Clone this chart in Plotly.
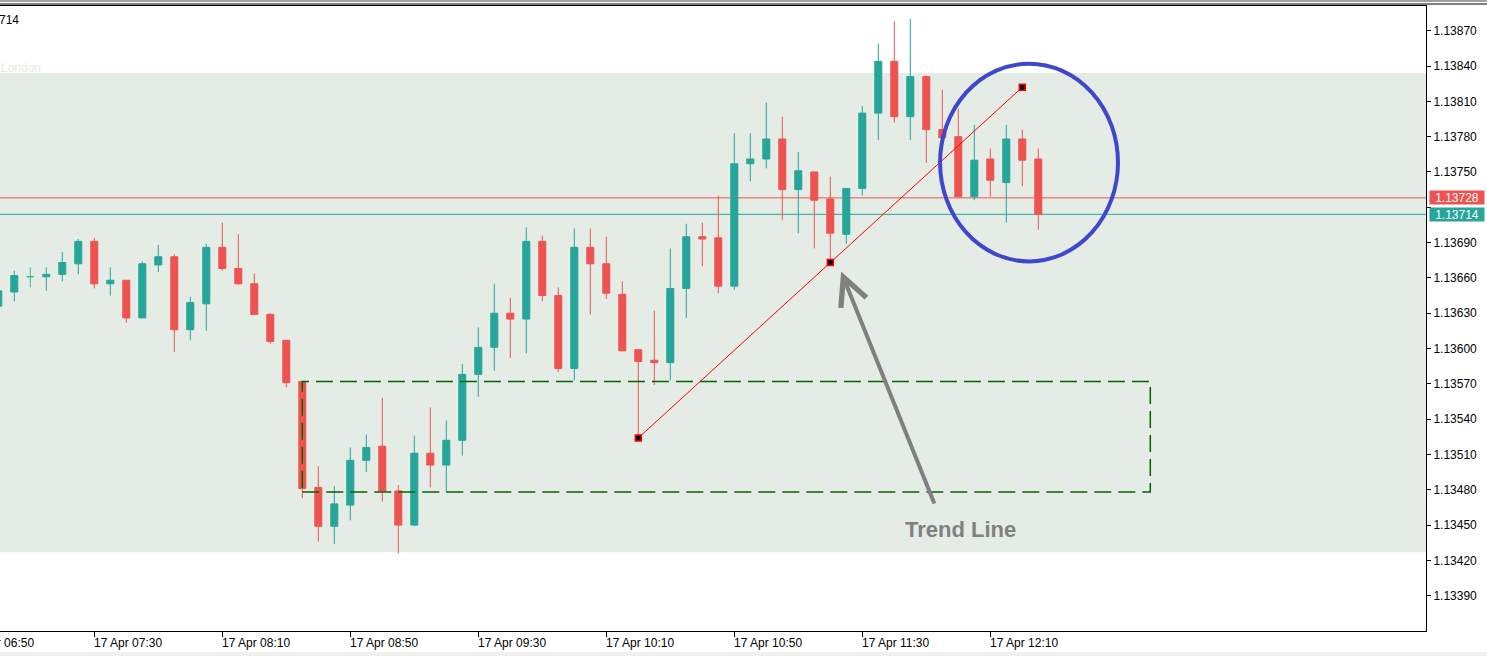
import pandas as pd
import plotly.graph_objects as go

# ---------------- data ----------------
times = pd.date_range("2019-04-17 07:00", periods=66, freq="5min")

opens = [1.13636, 1.13648, 1.13661, 1.13661, 1.13663, 1.13672, 1.13691, 1.13655, 1.13658, 1.13626,
         1.13671, 1.13678, 1.13616, 1.13638, 1.13686, 1.13668, 1.13655, 1.13629, 1.13607, 1.13572,
         1.13482, 1.13449, 1.13467, 1.13505, 1.13517, 1.13479, 1.13450, 1.13511, 1.13501, 1.13522,
         1.13578, 1.13601, 1.13630, 1.13625, 1.13691, 1.13645, 1.13583, 1.13686, 1.13672, 1.13646,
         1.13599, 1.13590, 1.13588, 1.13651, 1.13695, 1.13694, 1.13653, 1.13757, 1.13761, 1.13778,
         1.13735, 1.13750, 1.13727, 1.13697, 1.13736, 1.13800, 1.13844, 1.13797, 1.13831, 1.13786,
         1.13780, 1.13729, 1.13761, 1.13741, 1.13778, 1.13761]
highs = [1.13652, 1.13666, 1.13669, 1.13669, 1.13682, 1.13693, 1.13694, 1.13669, 1.13658, 1.13674,
         1.13688, 1.13680, 1.13644, 1.13689, 1.13707, 1.13697, 1.13664, 1.13630, 1.13607, 1.13572,
         1.13500, 1.13483, 1.13516, 1.13527, 1.13558, 1.13484, 1.13526, 1.13550, 1.13539, 1.13587,
         1.13618, 1.13655, 1.13643, 1.13703, 1.13696, 1.13652, 1.13702, 1.13702, 1.13695, 1.13657,
         1.13599, 1.13632, 1.13685, 1.13706, 1.13707, 1.13730, 1.13783, 1.13783, 1.13809, 1.13797,
         1.13767, 1.13750, 1.13746, 1.13736, 1.13806, 1.13859, 1.13878, 1.13880, 1.13832, 1.13820,
         1.13804, 1.13790, 1.13770, 1.13790, 1.13786, 1.13770]
lows = [1.13633, 1.13640, 1.13652, 1.13649, 1.13657, 1.13663, 1.13651, 1.13645, 1.13622, 1.13626,
        1.13665, 1.13597, 1.13607, 1.13615, 1.13666, 1.13654, 1.13629, 1.13604, 1.13567, 1.13473,
        1.13436, 1.13434, 1.13454, 1.13495, 1.13470, 1.13426, 1.13449, 1.13482, 1.13478, 1.13509,
        1.13559, 1.13581, 1.13592, 1.13596, 1.13640, 1.13580, 1.13573, 1.13629, 1.13642, 1.13600,
        1.13524, 1.13569, 1.13573, 1.13626, 1.13670, 1.13647, 1.13650, 1.13742, 1.13753, 1.13709,
        1.13698, 1.13685, 1.13674, 1.13689, 1.13730, 1.13777, 1.13792, 1.13777, 1.13758, 1.13779,
        1.13729, 1.13726, 1.13729, 1.13707, 1.13738, 1.13701]
closes = [1.13649, 1.13662, 1.13661, 1.13663, 1.13673, 1.13691, 1.13655, 1.13658, 1.13626, 1.13672,
          1.13678, 1.13616, 1.13639, 1.13686, 1.13668, 1.13655, 1.13629, 1.13606, 1.13571, 1.13481,
          1.13449, 1.13468, 1.13505, 1.13516, 1.13479, 1.13450, 1.13511, 1.13501, 1.13522, 1.13578,
          1.13601, 1.13630, 1.13625, 1.13691, 1.13645, 1.13583, 1.13686, 1.13672, 1.13647, 1.13598,
          1.13589, 1.13588, 1.13651, 1.13695, 1.13693, 1.13653, 1.13757, 1.13761, 1.13778, 1.13735,
          1.13751, 1.13726, 1.13698, 1.13736, 1.13800, 1.13844, 1.13797, 1.13831, 1.13786, 1.13779,
          1.13729, 1.13760, 1.13743, 1.13778, 1.13760, 1.13714]

y_tick_values = [1.13390, 1.13420, 1.13450, 1.13480, 1.13510, 1.13540, 1.13570, 1.13600, 1.13630,
                 1.13660, 1.13690, 1.13720, 1.13750, 1.13780, 1.13810, 1.13840, 1.13870]
x_tick_times = ["2019-04-17 06:50", "2019-04-17 07:30", "2019-04-17 08:10", "2019-04-17 08:50",
                "2019-04-17 09:30", "2019-04-17 10:10", "2019-04-17 10:50", "2019-04-17 11:30",
                "2019-04-17 12:10"]
x_tick_labels = ["17 Apr 06:50", "17 Apr 07:30", "17 Apr 08:10", "17 Apr 08:50", "17 Apr 09:30",
                 "17 Apr 10:10", "17 Apr 10:50", "17 Apr 11:30", "17 Apr 12:10"]

ask_price = 1.13728
bid_price = 1.13714

session_band = [1.13427, 1.13834]           # London session band (price)
zone_times = ["2019-04-17 08:35", "2019-04-17 13:00"]
zone_prices = [1.13478, 1.13572]

trend_times = ["2019-04-17 10:20", "2019-04-17 11:20", "2019-04-17 12:20"]
trend_prices = [1.13524, 1.13673, 1.13822]

circle_times = ["2019-04-17 11:54:18", "2019-04-17 12:49:54"]
circle_prices = [1.13674, 1.13842]

arrow_tip = ("2019-04-17 11:22:06", 1.13674)
arrow_tail = ("2019-04-17 11:52:42", 1.13467)
label_pos = ("2019-04-17 12:00:33", 1.13446)

x_range = ["2019-04-17 07:00:32", "2019-04-17 14:26:09"]
y_range = [1.13360, 1.13891]

# ---------------- styles ----------------
UP = "#26a69a"
DN = "#ef5350"
DOJI = "#3dbd7d"
BAND = "#e5ece5"
FONT = "Liberation Sans"

doji_idx = [i for i in range(len(opens)) if opens[i] == closes[i]]
main_idx = [i for i in range(len(opens)) if i not in doji_idx]

def pick(arr, idx):
    return [arr[i] for i in idx]

fig = go.Figure()

fig.add_trace(go.Candlestick(
    x=pick(list(times), main_idx), open=pick(opens, main_idx), high=pick(highs, main_idx),
    low=pick(lows, main_idx), close=pick(closes, main_idx),
    increasing=dict(line=dict(color=UP, width=1), fillcolor=UP),
    decreasing=dict(line=dict(color=DN, width=1), fillcolor=DN),
    whiskerwidth=0, hoverinfo="skip", showlegend=False))

fig.add_trace(go.Candlestick(
    x=pick(list(times), doji_idx), open=pick(opens, doji_idx), high=pick(highs, doji_idx),
    low=pick(lows, doji_idx), close=pick(closes, doji_idx),
    increasing=dict(line=dict(color=DOJI, width=1), fillcolor=DOJI),
    decreasing=dict(line=dict(color=DOJI, width=1), fillcolor=DOJI),
    whiskerwidth=0, hoverinfo="skip", showlegend=False))

# trend line
fig.add_trace(go.Scatter(
    x=trend_times, y=trend_prices, mode="lines+markers",
    line=dict(color="#ff0000", width=1),
    marker=dict(symbol="square", size=6, color="black", line=dict(color="#ff0000", width=1.5)),
    hoverinfo="skip", showlegend=False))

shapes = [
    # London session band
    dict(type="rect", xref="paper", yref="y", x0=0, x1=1, y0=session_band[0], y1=session_band[1],
         fillcolor=BAND, line=dict(width=0), layer="below"),
    # ask / bid lines
    dict(type="line", xref="paper", yref="y", x0=0, x1=1, y0=ask_price, y1=ask_price,
         line=dict(color=DN, width=1), layer="below"),
    dict(type="line", xref="paper", yref="y", x0=0, x1=1, y0=bid_price, y1=bid_price,
         line=dict(color=UP, width=1), layer="below"),
    # dashed zone rectangle
    dict(type="rect", xref="x", yref="y", x0=zone_times[0], x1=zone_times[1],
         y0=zone_prices[0], y1=zone_prices[1],
         line=dict(color="#006400", width=1.5, dash="17px,7px"), layer="above"),
    # blue circle
    dict(type="circle", xref="x", yref="y", x0=circle_times[0], x1=circle_times[1],
         y0=circle_prices[0], y1=circle_prices[1],
         line=dict(color="#3f48cc", width=4), layer="above"),
    # window chrome at top
    dict(type="rect", xref="paper", yref="paper", x0=0, x1=1.05, y0=1 + 4 / 625, y1=1 + 7 / 625,
         fillcolor="#a0a0a0", line=dict(width=0)),
    dict(type="line", xref="paper", yref="paper", x0=0, x1=1.05, y0=1 + 2 / 625, y1=1 + 2 / 625,
         line=dict(color="black", width=1)),
    # bottom strip
    dict(type="rect", xref="paper", yref="paper", x0=0, x1=1.05, y0=-25 / 625, y1=-21 / 625,
         fillcolor="#f0f0f0", line=dict(width=0)),
]

annotations = []
r0 = pd.Timestamp(x_range[0])
r1 = pd.Timestamp(x_range[1])
for t, lab in zip(x_tick_times, x_tick_labels):
    frac = (pd.Timestamp(t) - r0) / (r1 - r0)
    annotations.append(dict(xref="paper", yref="paper", x=frac, y=0, xanchor="left", yanchor="top",
                            xshift=-2, yshift=-3, text=lab, showarrow=False,
                            font=dict(family=FONT, size=12, color="black")))

for price, col in [(ask_price, DN), (bid_price, UP)]:
    annotations.append(dict(xref="paper", yref="y", x=1, y=price, xanchor="left", yanchor="middle",
                            xshift=3, text=f"{price:.5f}", showarrow=False, bgcolor=col,
                            width=52, height=11, borderpad=1,
                            font=dict(family=FONT, size=12, color="white")))

annotations.append(dict(xref="paper", yref="paper", x=0, y=1 - 14 / 625, xanchor="left",
                        yanchor="middle", xshift=-3, text="714", showarrow=False,
                        font=dict(family=FONT, size=12, color="black")))
annotations.append(dict(xref="paper", yref="y", x=0, y=session_band[1], xanchor="left",
                        yanchor="bottom", xshift=-1, yshift=-4, text="London", showarrow=False,
                        font=dict(family=FONT, size=12, color="#e4ebe6")))

annotations.append(dict(xref="x", yref="y", x=arrow_tip[0], y=arrow_tip[1],
                        axref="x", ayref="y", ax=arrow_tail[0], ay=arrow_tail[1],
                        text="", showarrow=True, arrowhead=5, arrowsize=1.35, arrowwidth=4,
                        arrowcolor="#808080", standoff=11))
annotations.append(dict(xref="x", yref="y", x=label_pos[0], y=label_pos[1], text="Trend Line",
                        showarrow=False,
                        font=dict(family=FONT, size=22, color="#808080", weight="bold")))

# the 1.13720 label sits under the price boxes, as in the reference
hidden_labels = {ask_price, bid_price}
y_tick_text = []
for v in y_tick_values:
    covered = any(abs(v - p) < 0.00011 for p in hidden_labels)
    y_tick_text.append("" if covered else f"{v:.5f}")

fig.update_layout(
    width=1487, height=656,
    margin=dict(l=0, r=61, t=6, b=25, autoexpand=False),
    paper_bgcolor="white", plot_bgcolor="white",
    boxgap=0.375,
    shapes=shapes, annotations=annotations,
    xaxis=dict(type="date", range=x_range, rangeslider=dict(visible=False),
               showgrid=False, zeroline=False, showline=True, linecolor="black", linewidth=1,
               mirror=True, ticks="outside", ticklen=5, tickcolor="black",
               tickvals=x_tick_times, showticklabels=False, automargin=False),
    yaxis=dict(range=y_range, side="right", showgrid=False, zeroline=False, showline=True,
               linecolor="black", linewidth=1, ticks="outside", ticklen=4, tickcolor="black",
               tickvals=y_tick_values, ticktext=y_tick_text,
               tickfont=dict(family=FONT, size=12, color="black"), automargin=False),
    font=dict(family=FONT),
)

fig.write_html("out.html", config={"displayModeBar": False},
               post_script="document.body.style.margin='0';document.body.style.overflow='hidden';")
